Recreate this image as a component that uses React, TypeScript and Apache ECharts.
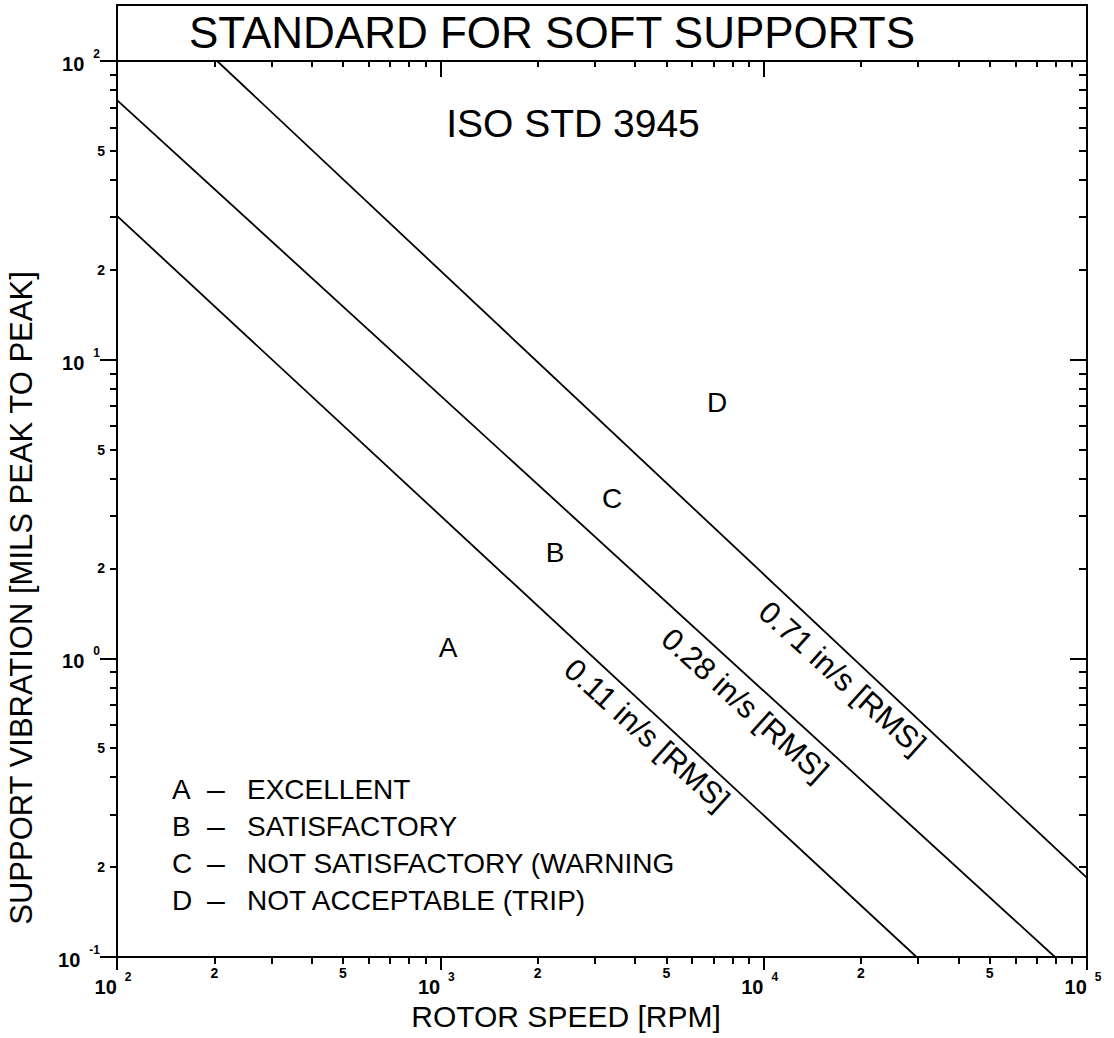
import React, { useEffect, useRef } from "react";
import * as echarts from "echarts";

const FONT = "'Liberation Sans', Arial, sans-serif";

const X_MIN = 100;
const X_MAX = 100000;
const Y_MIN = 0.1;
const Y_MAX = 100;

const xMajorTicks = [100, 1000, 10000, 100000];
const xMinorTicks = [
  200, 300, 400, 500, 600, 700, 800, 900,
  2000, 3000, 4000, 5000, 6000, 7000, 8000, 9000,
  20000, 30000, 40000, 50000, 60000, 70000, 80000, 90000,
];
const xMinorLabels = [200, 500, 2000, 5000, 20000, 50000];

const yMajorTicks = [0.1, 1, 10, 100];
const yMinorTicks = [
  0.2, 0.3, 0.4, 0.5, 0.6, 0.7, 0.8, 0.9,
  2, 3, 4, 5, 6, 7, 8, 9,
  20, 30, 40, 50, 60, 70, 80, 90,
];
const yMinorLabels = [0.2, 0.5, 2, 5, 20, 50];

// velocity limit lines (rotor speed RPM, vibration mils p-p)
const line011 = [[100, 30.3], [29700, 0.1]];
const line028 = [[100, 74], [79600, 0.1]];
const line071 = [[204, 100], [100000, 0.184]];

const zoneLetters = ["A", "B", "C", "D"];
const zonePoints = [[1056, 1.09], [2265, 2.27], [3397, 3.44], [7180, 7.21]];

const lineLabels = ["0.11 in/s [RMS]", "0.28 in/s [RMS]", "0.71 in/s [RMS]"];
const lineLabelPoints = [[4355, 0.555], [8750, 0.698], [17490, 0.859]];

const legendLetters = ["A", "B", "C", "D"];
const legendTexts = [
  "EXCELLENT",
  "SATISFACTORY",
  "NOT SATISFACTORY (WARNING",
  "NOT ACCEPTABLE (TRIP)",
];

const TITLE = "STANDARD FOR SOFT SUPPORTS";
const SUBTITLE = "ISO STD 3945";
const X_NAME = "ROTOR SPEED [RPM]";
const Y_NAME = "SUPPORT VIBRATION [MILS PEAK TO PEAK]";

const GRID = { left: 117, right: 27, top: 61, bottom: 81 };

function expOf(v: number) {
  return Math.round(Math.log10(v));
}
function leadDigit(v: number) {
  return String(Math.round(v / Math.pow(10, Math.floor(Math.log10(v) + 1e-9))));
}

export default function App() {
  const ref = useRef<HTMLDivElement>(null);

  useEffect(() => {
    if (!ref.current) return;
    const chart = echarts.init(ref.current, null, { renderer: "svg" });

    const axisLine = { show: true, lineStyle: { color: "#000", width: 2 } };
    const noLine = { show: false };

    const baseX = {
      type: "log" as const,
      logBase: 10,
      min: X_MIN,
      max: X_MAX,
      splitLine: { show: false },
      minorTick: { show: false },
    };
    const baseY = {
      type: "log" as const,
      logBase: 10,
      min: Y_MIN,
      max: Y_MAX,
      splitLine: { show: false },
      minorTick: { show: false },
    };

    const xMajorRich = {
      b: { fontSize: 20, fontWeight: "bold", fontFamily: FONT, color: "#000", lineHeight: 26, verticalAlign: "bottom" },
      e: { fontSize: 12, fontWeight: "bold", fontFamily: FONT, color: "#000", lineHeight: 12, verticalAlign: "top", padding: [0, 8, 0, 8] },
    };
    const yMajorRich = {
      b: { fontSize: 20, fontWeight: "bold", fontFamily: FONT, color: "#000", lineHeight: 26, verticalAlign: "bottom" },
      e: { fontSize: 12, fontWeight: "bold", fontFamily: FONT, color: "#000", lineHeight: 12, verticalAlign: "top", padding: [0, 0, 0, 9] },
    };

    const textLabel = (size: number, rotate = 0) => ({
      show: true,
      position: "inside",
      rotate,
      formatter: (p: any) => p.name,
      fontSize: size,
      fontFamily: FONT,
      color: "#000",
      opacity: 1,
      textBorderWidth: 0,
    });

    const option: any = {
      animation: false,
      backgroundColor: "#fff",
      grid: { ...GRID, containLabel: false, outerBoundsMode: "none" },
      xAxis: [
        {
          ...baseX,
          position: "bottom",
          axisLine,
          axisTick: { show: true, inside: false, length: 13, customValues: xMajorTicks, lineStyle: { color: "#000", width: 2 } },
          axisLabel: {
            show: true,
            customValues: xMajorTicks,
            margin: 14,
            formatter: (v: number) => `{b|10}{e|${expOf(v)}}`,
            rich: xMajorRich,
          },
        },
        {
          ...baseX,
          position: "bottom",
          axisLine: noLine,
          axisTick: { show: true, inside: false, length: 7, customValues: xMinorTicks, lineStyle: { color: "#000", width: 2 } },
          axisLabel: {
            show: true,
            customValues: xMinorLabels,
            margin: 9,
            fontSize: 14,
            fontWeight: "bold",
            fontFamily: FONT,
            color: "#000",
            formatter: (v: number) => leadDigit(v),
          },
        },
        {
          ...baseX,
          position: "top",
          axisLine,
          axisTick: { show: true, inside: true, length: 16, customValues: xMajorTicks, lineStyle: { color: "#000", width: 2 } },
          axisLabel: { show: false },
        },
        {
          ...baseX,
          position: "top",
          axisLine: noLine,
          axisTick: { show: true, inside: true, length: 6, customValues: xMinorTicks, lineStyle: { color: "#000", width: 2 } },
          axisLabel: { show: false },
        },
      ],
      yAxis: [
        {
          ...baseY,
          position: "left",
          axisLine,
          axisTick: { show: true, inside: false, length: 17, customValues: yMajorTicks, lineStyle: { color: "#000", width: 2 } },
          axisLabel: {
            show: true,
            customValues: yMajorTicks,
            margin: 17,
            formatter: (v: number) => `{b|10}{e|${expOf(v)}}`,
            rich: yMajorRich,
          },
        },
        {
          ...baseY,
          position: "left",
          axisLine: noLine,
          axisTick: { show: true, inside: false, length: 7, customValues: yMinorTicks, lineStyle: { color: "#000", width: 2 } },
          axisLabel: {
            show: true,
            customValues: yMinorLabels,
            margin: 12,
            fontSize: 14,
            fontWeight: "bold",
            fontFamily: FONT,
            color: "#000",
            formatter: (v: number) => leadDigit(v),
          },
        },
        {
          ...baseY,
          position: "right",
          axisLine,
          axisTick: { show: true, inside: true, length: 17, customValues: yMajorTicks, lineStyle: { color: "#000", width: 2 } },
          axisLabel: { show: false },
        },
        {
          ...baseY,
          position: "right",
          axisLine: noLine,
          axisTick: { show: true, inside: true, length: 8, customValues: yMinorTicks, lineStyle: { color: "#000", width: 2 } },
          axisLabel: { show: false },
        },
      ],
      series: [
        ...[line011, line028, line071].map((d, i) => ({
          type: "line",
          name: lineLabels[i],
          xAxisIndex: 0,
          yAxisIndex: 0,
          data: d,
          symbol: "none",
          lineStyle: { color: "#000", width: 1.8 },
          silent: true,
        })),
        {
          type: "scatter",
          xAxisIndex: 0,
          yAxisIndex: 0,
          symbolSize: 2,
          itemStyle: { color: "rgba(255,255,255,0)", opacity: 1 },
          data: zonePoints.map((p, i) => ({ name: zoneLetters[i], value: p })),
          label: textLabel(28),
          labelLayout: { hideOverlap: false },
          silent: true,
        },
        {
          type: "scatter",
          xAxisIndex: 0,
          yAxisIndex: 0,
          symbolSize: 2,
          itemStyle: { color: "rgba(255,255,255,0)", opacity: 1 },
          data: lineLabelPoints.map((p, i) => ({ name: lineLabels[i], value: p })),
          label: textLabel(31, -42),
          labelLayout: { hideOverlap: false },
          silent: true,
        },
      ],
      graphic: [
        {
          type: "rect",
          shape: { x: 117, y: 5, width: 970, height: 56 },
          style: { fill: "none", stroke: "#000", lineWidth: 2 },
          silent: true,
        },
        {
          type: "text",
          x: 552,
          y: 32,
          style: { text: TITLE, fontSize: 44, fontFamily: FONT, fill: "#000", align: "center", verticalAlign: "middle" },
        },
        {
          type: "text",
          x: 573,
          y: 123,
          style: { text: SUBTITLE, fontSize: 39, fontFamily: FONT, fill: "#000", align: "center", verticalAlign: "middle" },
        },
        {
          type: "text",
          x: 566,
          y: 1016,
          style: { text: X_NAME, fontSize: 30, fontFamily: FONT, fill: "#000", align: "center", verticalAlign: "middle" },
        },
        {
          type: "text",
          x: 21,
          y: 598,
          rotation: Math.PI / 2,
          style: { text: Y_NAME, fontSize: 31, fontFamily: FONT, fill: "#000", align: "center", verticalAlign: "middle" },
        },
        ...legendLetters.flatMap((l, i) => {
          const y = 789 + i * 37;
          return [
            { type: "text", x: 172, y, style: { text: l, fontSize: 28, fontFamily: FONT, fill: "#000", align: "left", verticalAlign: "middle" } },
            { type: "text", x: 207, y, style: { text: "\u2013", fontSize: 32, fontFamily: FONT, fill: "#000", align: "left", verticalAlign: "middle" } },
            { type: "text", x: 247, y, style: { text: legendTexts[i], fontSize: 28, fontFamily: FONT, fill: "#000", align: "left", verticalAlign: "middle" } },
          ];
        }),
      ],
    };

    chart.setOption(option);
    return () => chart.dispose();
  }, []);

  return (
    <div
      ref={ref}
      style={{ position: "fixed", left: 0, top: 0, width: 1114, height: 1038, background: "#fff" }}
    />
  );
}
